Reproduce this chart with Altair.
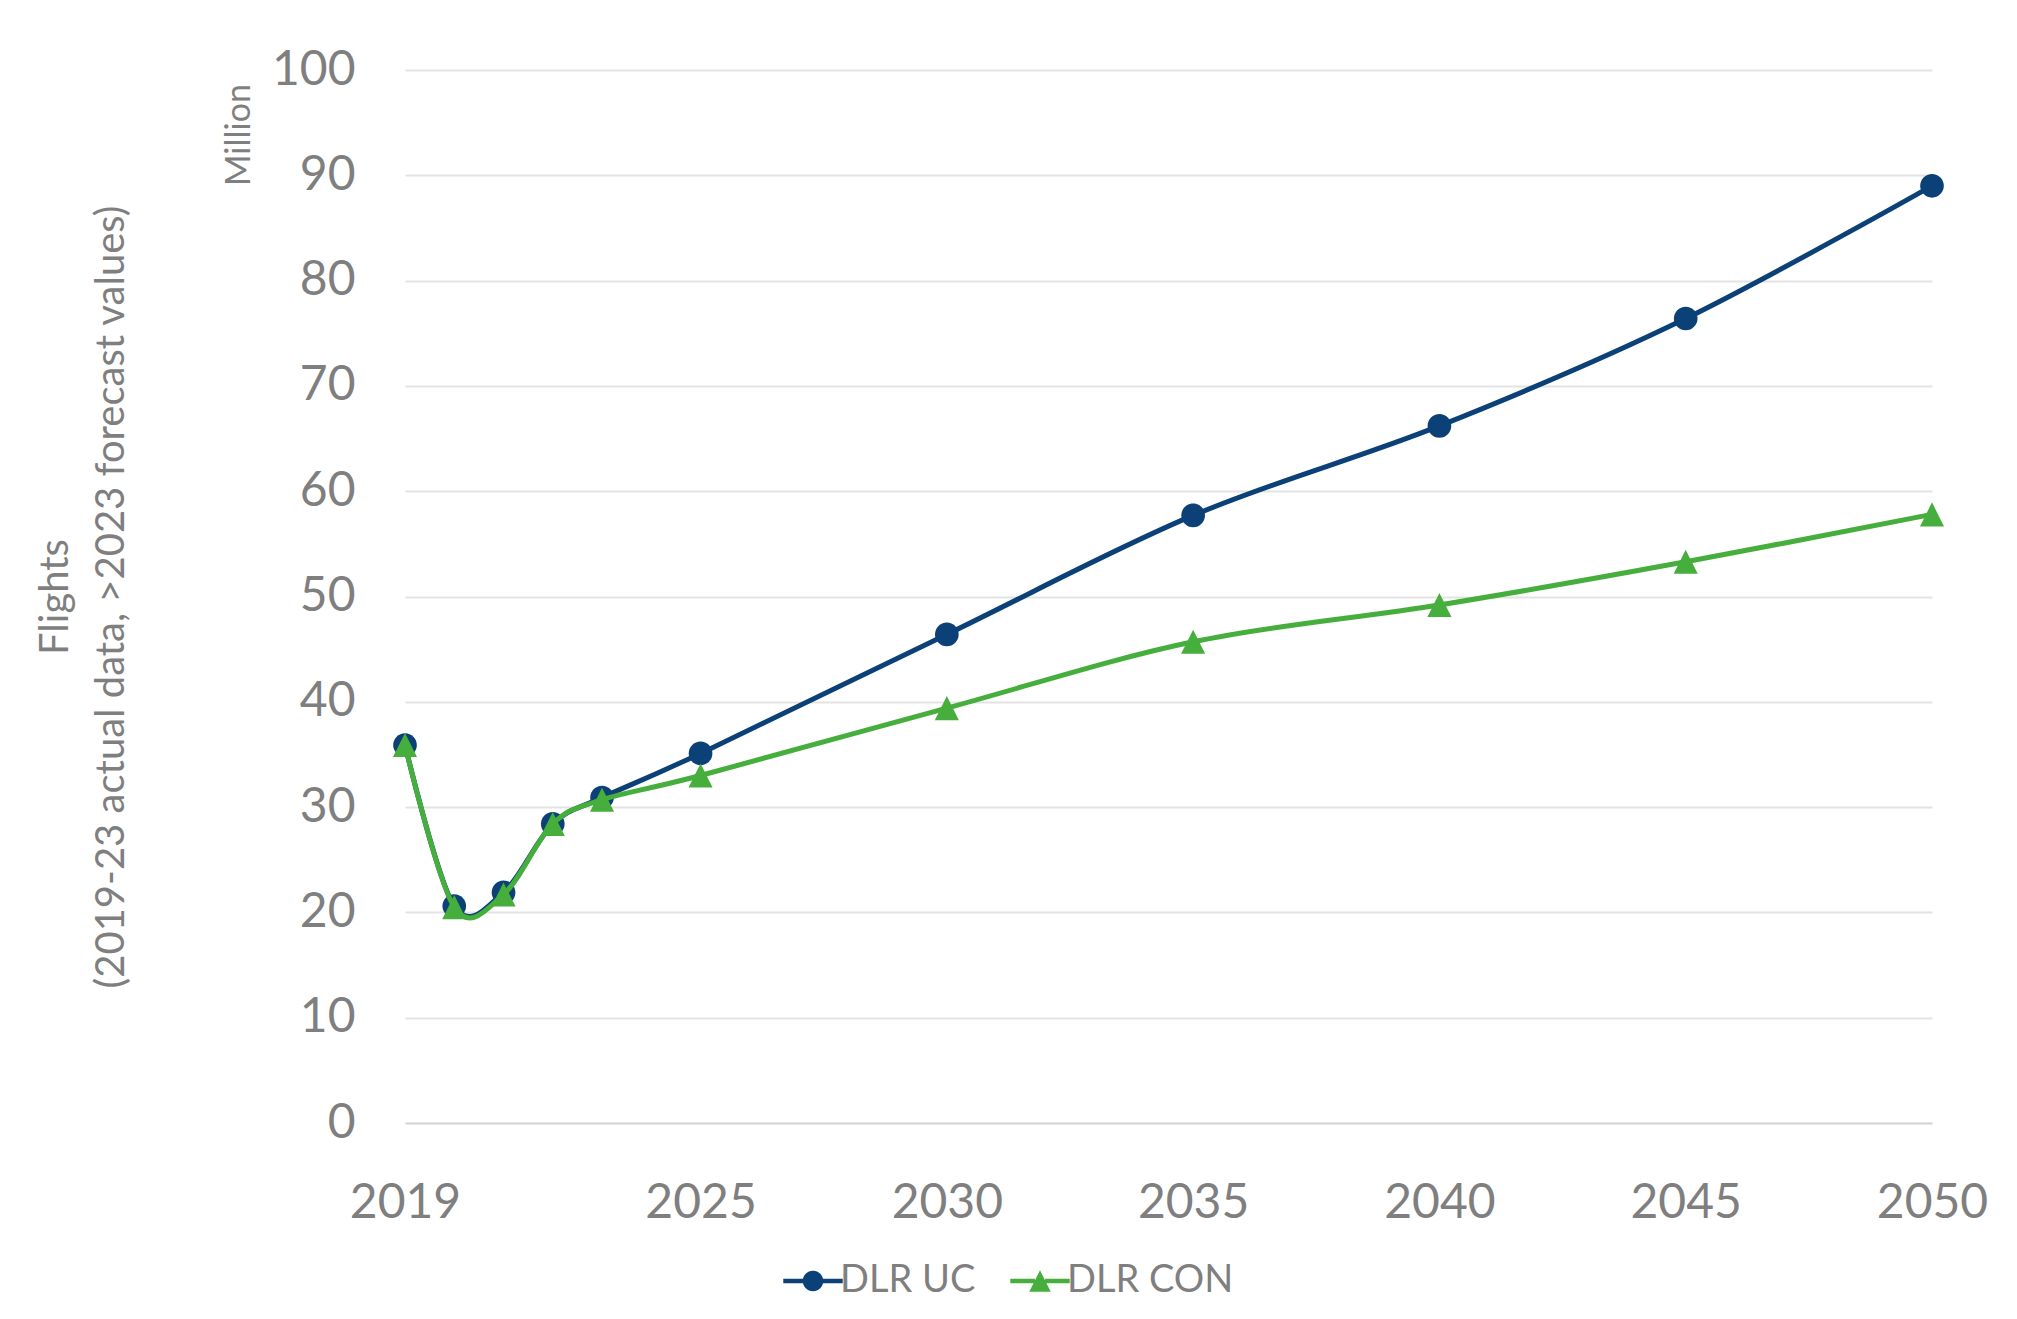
import altair as alt
import pandas as pd

years = [2019, 2020, 2021, 2022, 2023, 2025, 2030, 2035, 2040, 2045, 2050]
dlr_uc = [35.9, 20.6, 21.9, 28.4, 30.9, 35.1, 46.4, 57.7, 66.2, 76.4, 89.0]
dlr_con = [35.9, 20.5, 21.7, 28.4, 30.7, 33.0, 39.4, 45.7, 49.2, 53.3, 57.8]
series = ["DLR UC", "DLR CON"]
colors = ["#0B4177", "#46AE3C"]
x_ticks = [2019, 2025, 2030, 2035, 2040, 2045, 2050]
y_ticks = list(range(0, 101, 10))
y_title = ["Flights", "(2019-23 actual data, >2023 forecast values)"]
unit_note = ["Million"]

FONT = "Lato"
GREY = "#7F7F7F"

df_uc = pd.DataFrame({"year": years, "value": dlr_uc})
df_con = pd.DataFrame({"year": years, "value": dlr_con})

x_enc = alt.X(
    "year:Q",
    scale=alt.Scale(domain=[2019, 2050], nice=False, zero=False),
    axis=alt.Axis(
        values=x_ticks, format="d", title=None, grid=False, domain=False,
        ticks=False, labelFont=FONT, labelFontSize=48, labelColor=GREY,
        labelPadding=56, labelFlush=False,
    ),
)
y_enc = alt.Y(
    "value:Q",
    scale=alt.Scale(domain=[0, 100], nice=False),
    axis=alt.Axis(
        values=y_ticks, title=y_title, domain=False, ticks=False,
        labelFont=FONT, labelFontSize=48, labelColor=GREY, labelPadding=50,
        titleFont=FONT, titleFontSize=40, titleColor=GREY, titleFontWeight="normal",
        titlePadding=140, titleLineHeight=56,
        gridColor={"condition": {"test": "datum.value === 0", "value": "#D2D2D2"}, "value": "#E3E3E3"},
        gridWidth=2.2,
    ),
)

circle_path = "M1,0A1,1,0,1,1,-1,0A1,1,0,1,1,1,0Z"
tri_path = "M0,-1L1,1L-1,1Z"
leg_uc = "M-2.9,-0.22H-0.97V0.22H-2.9Z M0.97,-0.22H2.9V0.22H0.97Z M1,0A1,1,0,1,1,-1,0A1,1,0,1,1,1,0Z"
leg_con = "M-2.9,-0.22H-0.5V0.22H-2.9Z M0.5,-0.22H2.9V0.22H0.5Z M0,-1.05L1.05,1.05L-1.05,1.05Z"

line_uc = alt.Chart(df_uc).mark_line(
    color=colors[0], strokeWidth=5, interpolate="cardinal"
).encode(x=x_enc, y=y_enc)
pts_uc = alt.Chart(df_uc).mark_point(
    shape=circle_path, size=560, filled=True, color=colors[0], opacity=1
).encode(x=x_enc, y=y_enc)
line_con = alt.Chart(df_con).mark_line(
    color=colors[1], strokeWidth=5, interpolate="cardinal"
).encode(x=x_enc, y=y_enc)
pts_con = alt.Chart(df_con).mark_point(
    shape=tri_path, size=580, filled=True, color=colors[1], opacity=1
).encode(x=x_enc, y=y_enc)

legend_df = pd.DataFrame({"series": series, "year": [None, None], "value": [None, None]})
leg_props = dict(
    title=None, orient="none", legendX=389, legendY=1192, direction="horizontal",
    labelFont=FONT, labelFontSize=38, labelColor=GREY, labelOffset=8, labelLimit=500,
    symbolSize=420, symbolStrokeWidth=0, columnPadding=34, padding=0,
)
legend_layer = alt.Chart(legend_df).mark_point(filled=True, opacity=1).encode(
    x=x_enc,
    y=y_enc,
    color=alt.Color("series:N", scale=alt.Scale(domain=series, range=colors),
                    legend=alt.Legend(**leg_props)),
    shape=alt.Shape("series:N", scale=alt.Scale(domain=series, range=[leg_uc, leg_con]),
                    legend=alt.Legend(**leg_props)),
)

note = alt.Chart(pd.DataFrame({"t": unit_note})).mark_text(
    angle=270, font=FONT, fontSize=34, color=GREY, align="center", baseline="middle"
).encode(text="t:N", x=alt.value(-165), y=alt.value(65))

chart = alt.layer(line_uc, pts_uc, line_con, pts_con, legend_layer, note).properties(
    width=1527, height=1053,
    padding={"left": 397, "top": 62, "right": 70, "bottom": 185},
    autosize=alt.AutoSizeParams(type="none"),
    background="white",
).configure_view(stroke=None)

chart.save("out.html", embed_options={"renderer": "svg", "actions": False})
